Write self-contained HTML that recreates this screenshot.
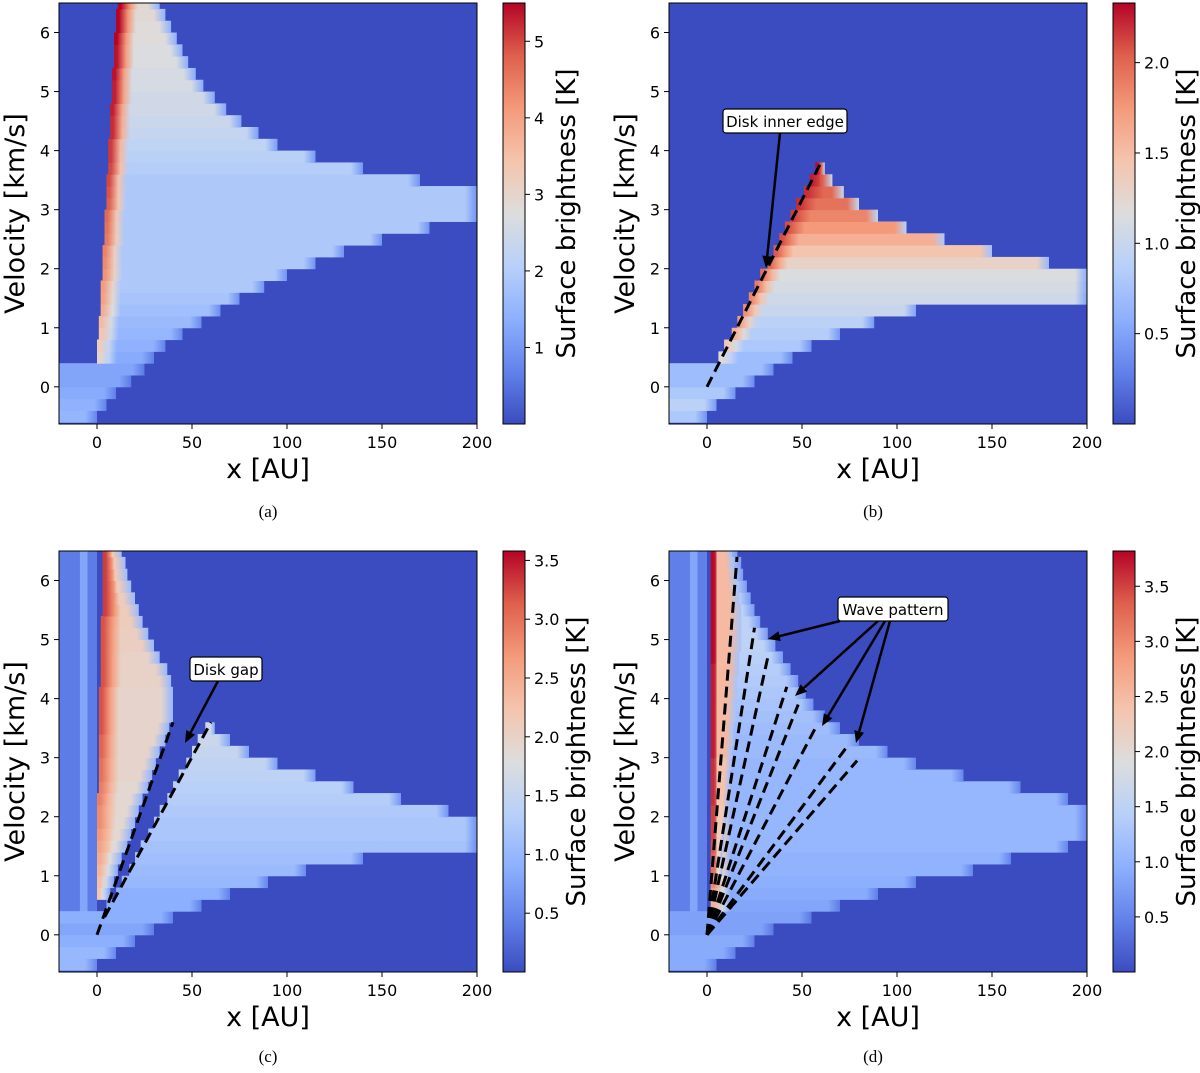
<!DOCTYPE html>
<html><head><meta charset="utf-8"><style>
html,body{margin:0;padding:0;background:#fff;}
svg{display:block;font-family:"DejaVu Sans","Liberation Sans",sans-serif;}
</style></head><body>
<svg id="fig" width="1200" height="1073" viewBox="0 0 1200 1073" xmlns="http://www.w3.org/2000/svg"><defs id="defs"></defs></svg>
<script>
// shared velocity rows (bottom of each 0.2 km/s bin)
const rowsV = [-0.6,-0.4,-0.2,0,0.2,0.4,0.6,0.8,1.0,1.2,1.4,1.6,1.8,2.0,2.2,2.4,2.6,2.8,3.0,3.2,3.4,3.6,3.8,4.0,4.2,4.4,4.6,4.8,5.0,5.2,5.4,5.6,5.8,6.0,6.2,6.4];
const xTicks = [0,50,100,150,200];
const yTicks = [0,1,2,3,4,5,6];
// panel a
const aL = [-20,-20,-20,-20,-20,0,0,1,1,2,2,2,3,3,3,4,4,4,5,5,5,6,6,6,7,7,7,8,8,8,9,9,9,10,10,11];
const aR = [0,5,10,18,25,30,36,45,55,65,75,88,100,115,130,150,175,200,200,200,170,140,115,95,85,76,68,62,56,52,48,45,42,39,36,33];
const aVal = [1.5,1.4,1.3,1.2,1.2,1.3,1.4,1.5,1.6,1.7,1.8,1.9,1.9,1.9,1.9,1.9,1.9,1.9,1.9,1.9,1.9,2.0,2.1,2.2,2.3,2.4,2.5,2.5,2.6,2.6,2.7,2.7,2.8,2.8,2.9,2.9];
const aRidge = [null,null,null,null,null,3.0,3.2,3.4,3.6,3.8,4.0,4.1,4.2,4.3,4.4,4.5,4.6,4.7,4.8,4.9,5.0,5.0,5.1,5.1,5.2,5.2,5.3,5.3,5.3,5.4,5.4,5.4,5.5,5.5,5.5,5.5];
const aCbTicks = [1,2,3,4,5];
// panel b
const bL = [-20,-20,-20,-20,-20,6,9,13,16,19,22,25,28,32,35,38,41,44,47,51,54,57,null,null,null,null,null,null,null,null,null,null,null,null,null,null];
const bR = [0,5,15,25,35,45,55,70,88,110,200,200,200,180,150,125,105,90,80,72,66,62,null,null,null,null,null,null,null,null,null,null,null,null,null,null];
const bVal = [0.8,0.9,0.8,0.7,0.7,0.7,0.8,0.85,0.9,1.0,1.05,1.1,1.15,1.3,1.45,1.6,1.75,1.85,1.95,2.0,2.05,2.1,null,null,null,null,null,null,null,null,null,null,null,null,null,null];
const bRidge = [null,null,null,null,null,1.2,1.4,1.6,1.7,1.8,1.85,1.9,1.95,2.0,2.05,2.1,2.1,2.15,2.2,2.2,2.25,2.3,null,null,null,null,null,null,null,null,null,null,null,null,null,null];
const bCbTicks = [0.5,1.0,1.5,2.0];
// panel c (upper wedge + lower wedge)
const cL = [null,null,null,null,null,null,0,0,0,0,0,0,0,0,0,1,1,1,1,1,1,1,1,1,2,2,2,2,2,2,3,3,3,3,3,3];
const cR = [null,null,null,null,null,null,7,9,11,13,16,18,20,22,24,27,29,31,33,36,38,40,40,40,39,37,33,30,27,24,22,20,18,16,15,13];
const cVal = [null,null,null,null,null,null,1.5,1.6,1.7,1.8,1.85,1.9,1.9,1.9,1.9,1.9,1.95,1.95,1.95,1.95,1.95,1.95,1.95,1.95,2.0,2.0,2.0,2.05,2.05,2.1,2.1,2.1,2.1,2.15,2.15,2.15];
const cRidge = [null,null,null,null,null,null,2.2,2.3,2.4,2.5,2.6,2.7,2.8,2.8,2.9,2.9,3.0,3.0,3.1,3.1,3.2,3.2,3.2,3.2,3.2,3.2,3.2,3.2,3.2,3.2,3.3,3.3,3.3,3.3,3.3,3.3];
const cL2 = [-20,-20,-20,-20,-20,5,10,13,17,20,23,27,30,33,37,40,43,47,50,53,57,null,null,null,null,null,null,null,null,null,null,null,null,null,null,null];
const cR2 = [0,10,20,30,40,55,70,90,110,140,200,200,200,185,160,135,115,95,80,70,62,null,null,null,null,null,null,null,null,null,null,null,null,null,null,null];
const cVal2 = [1.0,1.0,0.9,0.8,0.9,0.9,0.9,1.0,1.05,1.1,1.15,1.2,1.2,1.25,1.3,1.35,1.4,1.45,1.5,1.55,1.6,null,null,null,null,null,null,null,null,null,null,null,null,null,null,null];
const cCbTicks = [0.5,1.0,1.5,2.0,2.5,3.0,3.5];
// panel d
const dL = [-20,-20,-20,-20,-20,2,2,2,2,2,2,2,2,2,2,2,2,2,2,2,2,2,2,2,2,2,2,2,2,2,2,2,2,2,2,2];
const dR = [5,15,25,35,55,70,90,110,140,160,190,200,200,200,190,165,135,110,95,80,70,62,56,52,48,44,40,36,32,28,25,23,21,19,18,16];
const dVal = [0.9,0.9,0.9,0.8,0.8,0.85,0.9,0.95,1.0,1.0,1.05,1.05,1.05,1.05,1.05,1.05,1.05,1.05,1.1,1.1,1.15,1.2,1.25,1.3,1.35,1.4,1.45,1.5,1.5,1.5,1.5,1.5,1.5,1.5,1.5,1.5];
const dRidge = [null,null,null,null,null,2.6,2.8,3.0,3.2,3.3,3.4,3.5,3.5,3.5,3.6,3.6,3.6,3.6,3.7,3.7,3.7,3.7,3.7,3.7,3.7,3.7,3.8,3.8,3.8,3.8,3.8,3.8,3.8,3.8,3.8,3.8];
const dL2 = [null,null,null,null,null,null,null,null,5,5,5,5,5,5,5,5,5,5,5,5,5,5,5,5,5,5,5,5,5,5,5,5,5,5,5,5];
const dR2 = [null,null,null,null,null,null,null,null,8,8,9,9,10,11,11,12,12,13,13,14,14,15,15,16,16,17,17,18,18,18,18,17,16,15,14,13];
const dVal2 = [null,null,null,null,null,null,null,null,2.0,2.1,2.2,2.2,2.3,2.3,2.4,2.4,2.4,2.4,2.5,2.5,2.5,2.5,2.5,2.5,2.5,2.5,2.5,2.5,2.5,2.5,2.5,2.5,2.5,2.5,2.5,2.5];
const dCbTicks = [0.5,1.0,1.5,2.0,2.5,3.0,3.5];
// dashed guide lines [x0,v0,x1,v1]
const bLines = [[0,0,60,3.8]];
const cLines = [[0,0,40,3.6],[4,0.3,60,3.6]];
const dLines = [[0,0,15.8,6.4],[0,0,25,5.2],[0,0,32,4.7],[0,0,42,4.2],[0,0,48,3.9],[0,0,57,3.5],[0,0,74,3.2],[0,0,79,2.95]];

const NS = "http://www.w3.org/2000/svg";
const svg = document.getElementById('fig');
const defs = document.getElementById('defs');
let gid = 0;
const CM = [[0,59,76,192],[0.125,98,130,234],[0.25,141,176,254],[0.375,184,208,249],[0.5,221,221,221],[0.625,245,196,173],[0.75,244,154,123],[0.875,222,96,77],[1,180,4,38]];
function cw(t){t=Math.max(0,Math.min(1,t));for(let i=1;i<CM.length;i++){if(t<=CM[i][0]){const a=CM[i-1],b=CM[i],f=(t-a[0])/(b[0]-a[0]);return `rgb(${Math.round(a[1]+f*(b[1]-a[1]))},${Math.round(a[2]+f*(b[2]-a[2]))},${Math.round(a[3]+f*(b[3]-a[3]))})`;}}return 'rgb(180,4,38)';}
function el(tag,attrs,parent){const e=document.createElementNS(NS,tag);for(const k in attrs)e.setAttribute(k,attrs[k]);(parent||svg).appendChild(e);return e;}
function txt(s,attrs,parent){const t=el('text',attrs,parent);t.textContent=s;return t;}

function panel(cfg){
  const ox=cfg.ox, oy=cfg.oy, W=418, H=421;
  const xs=x=>ox+(x+20)/220*W;
  const v0=-0.63, v1=6.5;
  const ys=v=>oy+H-(v-v0)/(v1-v0)*H;
  const col=v=>cw(v/cfg.cmax);
  const g=el('g',{},svg);
  
  
  const cp='clip'+cfg.name; const c=el('clipPath',{id:cp},defs); el('rect',{x:ox,y:oy,width:W,height:H},c);
  g.setAttribute('clip-path','url(#'+cp+')');
  el('rect',{x:ox,y:oy,width:W,height:H,fill:col(0)},g);
  (cfg.strips||[]).forEach(s=>{
    const r=el('rect',{x:xs(s[0]),y:ys(6.6),width:xs(s[1])-xs(s[0]),height:ys(s[2])-ys(6.6),fill:col(s[3])},g);
    
    
  });
  function rows(L,R,V,Rg){
    for(let i=0;i<rowsV.length;i++){
      if(L[i]===null||R[i]===null||L[i]===undefined)continue;
      const x1=xs(L[i]),x2=xs(R[i]);const w=x2-x1; if(w<=0)continue;
      const id='g'+(gid++);
      const lg=el('linearGradient',{id:id,gradientUnits:'userSpaceOnUse',x1:x1,x2:x2,y1:0,y2:0},defs);
      const body=col(V[i]);
      const stops=[];
      if(Rg&&Rg[i]!==null){stops.push([0,col(Rg[i])]);stops.push([Math.min(3/w,0.2),col(Rg[i])]);stops.push([Math.min(12/w,0.4),col((Rg[i]+V[i])/2)]);stops.push([Math.min(20/w,0.5),body]);}
      else stops.push([0,body]);
      stops.push([Math.max(1-12/w,0.55),body]);
      stops.push([1,col(V[i]*0.5)]);
      stops.forEach(s=>el('stop',{offset:s[0],'stop-color':s[1]},lg));
      const r=el('rect',{x:x1,y:ys(rowsV[i]+0.2),width:w,height:ys(rowsV[i])-ys(rowsV[i]+0.2)+0.5,fill:'url(#'+id+')'},g);
      
      
    }
  }
  rows(cfg.L,cfg.R,cfg.V,cfg.Rg);
  if(cfg.L2)rows(cfg.L2,cfg.R2,cfg.V2,null);
  if(cfg.ridgeOver){
    for(let i=0;i<rowsV.length;i++){ if(cfg.Rg[i]===null)continue;
      const r=el('rect',{x:xs(cfg.L[i]),y:ys(rowsV[i]+0.2),width:3,height:ys(rowsV[i])-ys(rowsV[i]+0.2)+0.5,fill:col(cfg.Rg[i])},g);
      
      
    }
  }
  (cfg.lines||[]).forEach(l=>{
    const ln=el('line',{x1:xs(l[0]),y1:ys(l[1]),x2:xs(l[2]),y2:ys(l[3]),stroke:'#000','stroke-width':3,'stroke-dasharray':'11,6'},g);
    
    
  });
  const fr=el('rect',{x:ox,y:oy,width:W,height:H,fill:'none',stroke:'#000','stroke-width':1});
  
  
  xTicks.forEach(t=>{el('line',{x1:xs(t),x2:xs(t),y1:oy+H,y2:oy+H+5,stroke:'#000'});
    const tl=txt(String(t),{x:xs(t),y:oy+H+24,'font-size':16,'text-anchor':'middle'});
    
    });
  yTicks.forEach(t=>{el('line',{x1:ox-5,x2:ox,y1:ys(t),y2:ys(t),stroke:'#000'});
    const tl=txt(String(t),{x:ox-9,y:ys(t)+6,'font-size':16,'text-anchor':'end'});
    
    });
  const xl=txt('x [AU]',{x:ox+W/2,y:oy+H+54,'font-size':27,'text-anchor':'middle'});
  
  
  const yl=txt('Velocity [km/s]',{x:0,y:0,'font-size':27,'text-anchor':'middle',transform:`translate(${ox-35},${oy+H/2}) rotate(-90)`});
  
  
  const cx=ox+444, cwid=22;
  const gid2='cb'+cfg.name; const lg=el('linearGradient',{id:gid2,x1:0,y1:1,x2:0,y2:0},defs);
  CM.forEach(s=>el('stop',{offset:s[0],'stop-color':`rgb(${s[1]},${s[2]},${s[3]})`},lg));
  const cb=el('rect',{x:cx,y:oy,width:cwid,height:H,fill:'url(#'+gid2+')',stroke:'#000','stroke-width':1});
  
  
  const cy=v=>oy+H-v/cfg.cmax*H;
  cfg.cbt.forEach(t=>{el('line',{x1:cx+cwid,x2:cx+cwid+5,y1:cy(t),y2:cy(t),stroke:'#000'});
    const tl=txt(cfg.cbt[0]%1?t.toFixed(1):String(t),{x:cx+cwid+9,y:cy(t)+6,'font-size':16});
    
    });
  const off = cfg.cbt[0]%1 ? 82 : 72;
  const cl=txt('Surface brightness [K]',{x:0,y:0,'font-size':26,'text-anchor':'middle',transform:`translate(${cx+off},${oy+H/2}) rotate(-90)`});
  
  
}
panel({name:'panel-a',ox:59,oy:3,cmax:5.5,L:aL,R:aR,V:aVal,Rg:aRidge,cbt:aCbTicks,ridgeOver:true});
panel({name:'panel-b',ox:669,oy:3,cmax:2.33,L:bL,R:bR,V:bVal,Rg:bRidge,cbt:bCbTicks,lines:bLines});
panel({name:'panel-c',ox:59,oy:551,cmax:3.58,L:cL,R:cR,V:cVal,Rg:cRidge,L2:cL2,R2:cR2,V2:cVal2,cbt:cCbTicks,lines:cLines,strips:[[-20,0,0.2,0.4],[-9,-5,0.2,0.8]]});
panel({name:'panel-d',ox:669,oy:551,cmax:3.82,L:dL,R:dR,V:dVal,Rg:dRidge,L2:dL2,R2:dR2,V2:dVal2,cbt:dCbTicks,lines:dLines,ridgeOver:true,strips:[[-20,0,0.2,0.45],[-9,-5,0.2,0.85]]});

function annot(name,label,cx,cy,w,arrows){
  const g=el('g',{});
  
  
  arrows.forEach(a=>{
    const dx=a[2]-a[0],dy=a[3]-a[1],L=Math.hypot(dx,dy),ux=dx/L,uy=dy/L;
    const bx=a[2]-ux*12,by=a[3]-uy*12;
    el('line',{x1:a[0],y1:a[1],x2:bx,y2:by,stroke:'#000','stroke-width':2.5},g);
    el('polygon',{points:`${a[2]},${a[3]} ${bx-uy*5},${by+ux*5} ${bx+uy*5},${by-ux*5}`,fill:'#000'},g);
  });
  el('rect',{x:cx-w/2,y:cy-12,width:w,height:24,rx:3,fill:'#fff',stroke:'#000','stroke-width':1.2},g);
  txt(label,{x:cx,y:cy+6,'font-size':15,'text-anchor':'middle'},g);
}
annot('disk-inner-edge-annotation','Disk inner edge',785,121,124,[[780,133,766,268]]);
annot('disk-gap-annotation','Disk gap',226,669,72,[[218,681,185,743]]);
annot('wave-pattern-annotation','Wave pattern',893,609,110,[[840,621,768,639],[878,621,795,696],[885,621,822,726],[890,621,856,743]]);

[['(a)',268,517],['(b)',873,517],['(c)',268,1062],['(d)',873,1062]].forEach(c=>{
  const t=txt(c[0],{x:c[1],y:c[2],'font-size':17,'text-anchor':'middle','font-family':'Liberation Serif, serif'});
  
  
});
</script>
</body></html>
